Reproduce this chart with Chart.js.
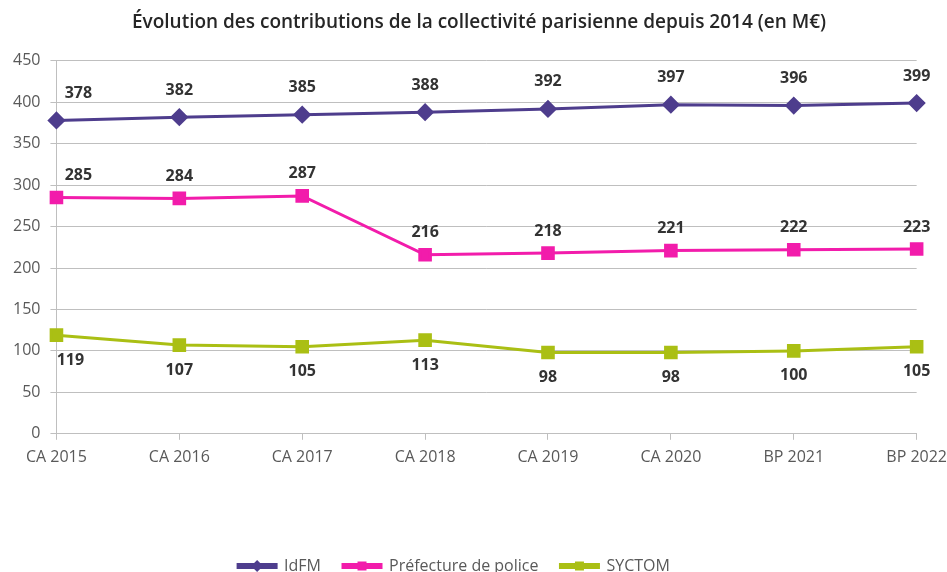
<!DOCTYPE html>
<html>
<head>
<meta charset="utf-8">
<script src="https://cdn.jsdelivr.net/npm/chart.js@4"></script>
<style>
  html, body { margin: 0; padding: 0; background: #fff; overflow: hidden; }
  #wrap { width: 955px; height: 584px; }
</style>
</head>
<body>
<div id="wrap"><canvas id="chart"></canvas></div>
<script>
const categories = ['CA 2015', 'CA 2016', 'CA 2017', 'CA 2018', 'CA 2019', 'CA 2020', 'BP 2021', 'BP 2022'];
const idfm = [378, 382, 385, 388, 392, 397, 396, 399];
const prefecture = [285, 284, 287, 216, 218, 221, 222, 223];
const syctom = [119, 107, 105, 113, 98, 98, 100, 105];
const yTicks = { min: 0, max: 450, step: 50 };

const gridColor = '#BFBFBF';
const tickColor = '#595959';

// dessine un marqueur (losange ou carré)
function drawMarker(ctx, style, x, y, r) {
    ctx.beginPath();
    if (style === 'rectRot') {
        ctx.moveTo(x, y - r);
        ctx.lineTo(x + r, y);
        ctx.lineTo(x, y + r);
        ctx.lineTo(x - r, y);
        ctx.closePath();
    } else {
        ctx.rect(x - r, y - r, 2 * r, 2 * r);
    }
    ctx.fill();
}

// étiquettes de valeurs au-dessus / en dessous des points
const valueLabels = {
    id: 'valueLabels',
    afterDatasetsDraw(chart) {
        const ctx = chart.ctx;
        ctx.save();
        ctx.font = 'bold 16px "Open Sans"';
        ctx.fillStyle = '#333333';
        ctx.textAlign = 'center';
        ctx.textBaseline = 'middle';
        chart.data.datasets.forEach((ds, i) => {
            const meta = chart.getDatasetMeta(i);
            const below = ds.labelOffset > 0;
            meta.data.forEach((pt, j) => {
                let x = pt.x;
                if (j === 0) x += below ? 14 : 22;
                ctx.fillText(String(ds.data[j]), x, pt.y + ds.labelOffset);
            });
        });
        ctx.restore();
    }
};

// légende un peu décalée vers la gauche + marqueurs au milieu des traits
const legendMarkers = {
    id: 'legendMarkers',
    afterLayout(chart) {
        const legend = chart.legend;
        if (!legend) return;
        legend.left -= 25;
        legend.right -= 25;
    },
    afterDraw(chart) {
        const legend = chart.legend;
        if (!legend || !legend.legendHitBoxes) return;
        const ctx = chart.ctx;
        const boxW = legend.options.labels.boxWidth;
        legend.legendHitBoxes.forEach((hb, i) => {
            const ds = chart.data.datasets[i];
            ctx.save();
            ctx.fillStyle = ds.borderColor;
            const r = ds.pointStyle === 'rectRot' ? 6 : 4.5;
            drawMarker(ctx, ds.pointStyle, hb.left + boxW / 2, hb.top + hb.height / 2, r);
            ctx.restore();
        });
    }
};

const ctx = document.getElementById('chart').getContext('2d');

new Chart(ctx, {
    type: 'line',
    data: {
        labels: categories,
        datasets: [{
            label: 'IdFM',
            data: idfm,
            borderColor: '#4E3D8D',
            backgroundColor: '#4E3D8D',
            pointStyle: 'rectRot',
            pointRadius: 7,
            pointHoverRadius: 7,
            borderWidth: 3,
            tension: 0,
            labelOffset: -27
        }, {
            label: 'Préfecture de police',
            data: prefecture,
            borderColor: '#F21CAB',
            backgroundColor: '#F21CAB',
            pointStyle: 'rect',
            pointRadius: 7.5,
            pointHoverRadius: 7.5,
            borderWidth: 3,
            tension: 0,
            labelOffset: -22
        }, {
            label: 'SYCTOM',
            data: syctom,
            borderColor: '#AABF14',
            backgroundColor: '#AABF14',
            pointStyle: 'rect',
            pointRadius: 7.5,
            pointHoverRadius: 7.5,
            borderWidth: 3,
            tension: 0,
            labelOffset: 25
        }]
    },
    options: {
        responsive: true,
        maintainAspectRatio: false,
        animation: false,
        layout: { padding: { left: 3, right: 0, top: 0, bottom: 0 } },
        plugins: {
            title: {
                display: true,
                text: 'Évolution des contributions de la collectivité parisienne depuis 2014 (en M€)',
                color: '#262626',
                font: { family: '"Open Sans"', size: 19, weight: '600' },
                padding: { top: 11, bottom: 27 }
            },
            legend: {
                position: 'bottom',
                labels: {
                    color: tickColor,
                    font: { family: '"Open Sans"', size: 16 },
                    boxWidth: 38,
                    boxHeight: 3,
                    padding: 22
                }
            },
            tooltip: { enabled: false }
        },
        scales: {
            x: {
                offset: false,
                grid: { display: true, drawOnChartArea: false, drawTicks: true, tickLength: 6, color: gridColor },
                border: { color: gridColor, width: 1 },
                ticks: { color: tickColor, font: { family: '"Open Sans"', size: 16 }, padding: 8, maxRotation: 0 },
                afterFit(scale) { scale.height += 61; }
            },
            y: {
                min: yTicks.min,
                max: yTicks.max,
                grid: { color: gridColor, tickLength: 6 },
                border: { color: gridColor, width: 1 },
                ticks: { stepSize: yTicks.step, color: tickColor, font: { family: '"Open Sans"', size: 16 }, padding: 10 }
            }
        }
    },
    plugins: [valueLabels, legendMarkers]
});
</script>
</body>
</html>
